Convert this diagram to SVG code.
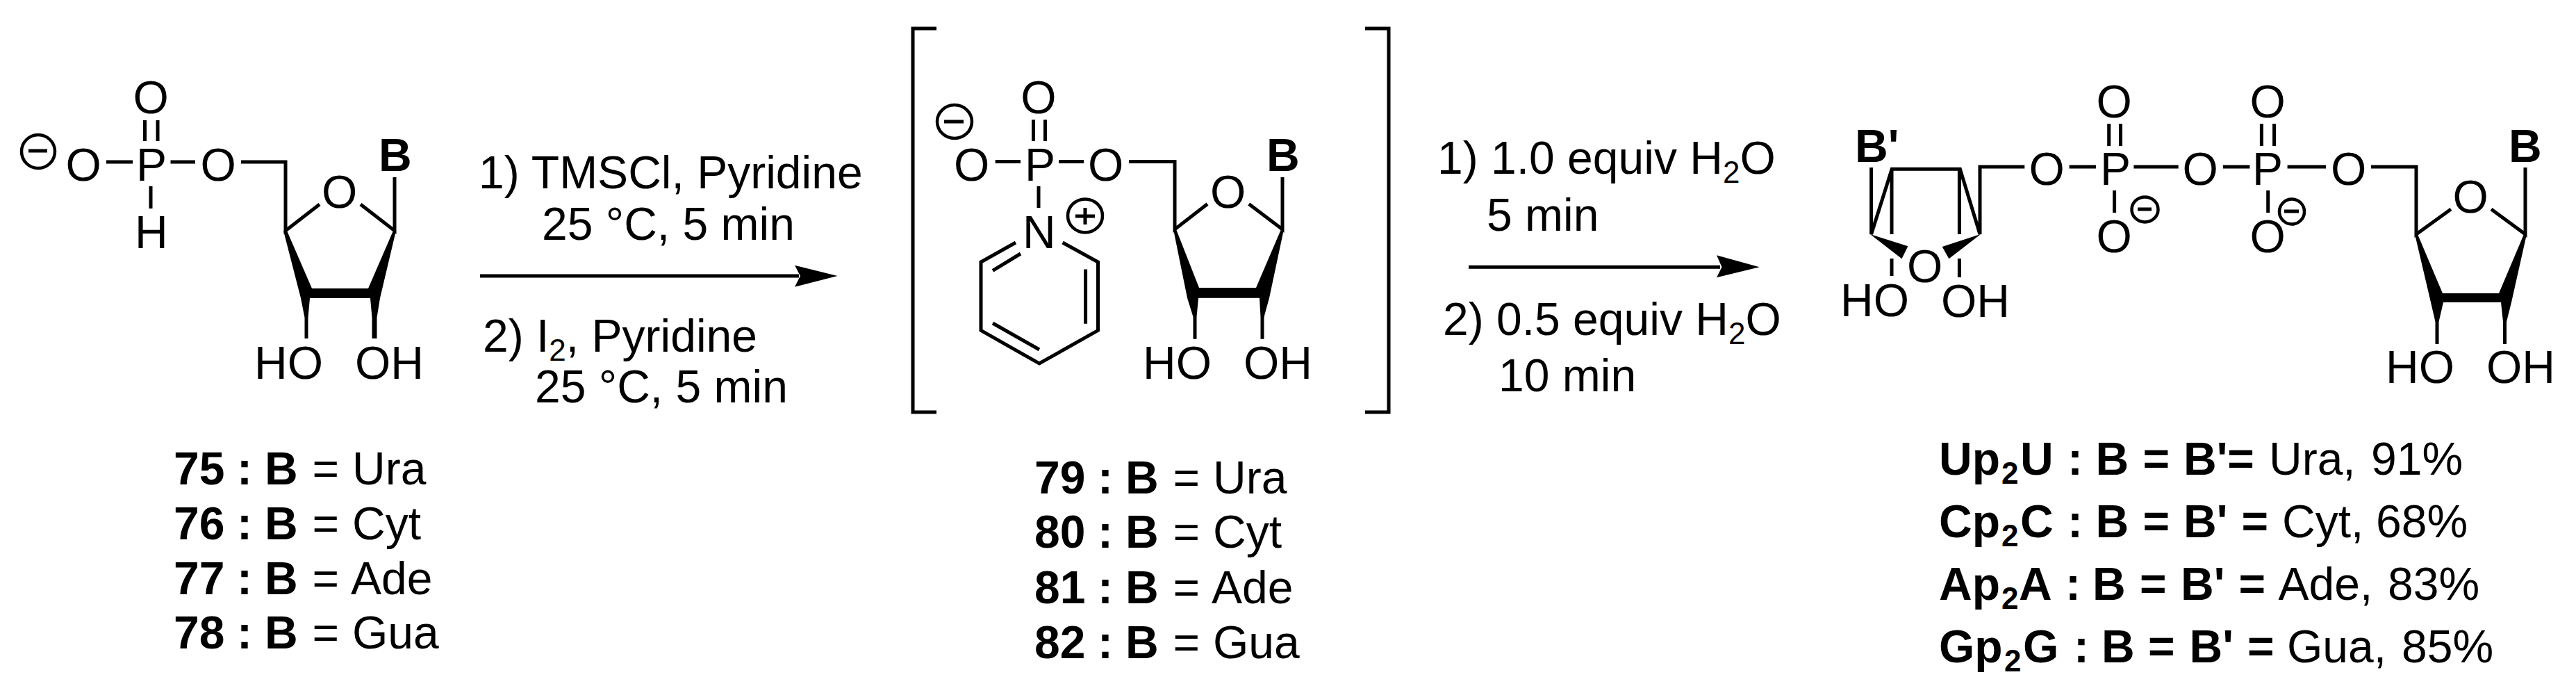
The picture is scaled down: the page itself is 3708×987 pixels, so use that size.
<svg xmlns="http://www.w3.org/2000/svg" width="3708" height="987" viewBox="0 0 3708 987">
<defs>
<style>
text{font-family:"Liberation Sans",Arial,sans-serif;font-size:66px;fill:#000}
.b{font-weight:700}
.s{font-size:44px}
.bd{fill:none;stroke:#000;stroke-width:5;stroke-linecap:butt;stroke-linejoin:miter}
.f{fill:#000;stroke:none}
.c{fill:#fff;stroke:#000;stroke-width:4.5}
</style>
</defs>
<rect width="3708" height="987" fill="#fff"/>
<g id="connectors">
<path class="bd" d="M691 397H1150"/><path class="f" d="M1144 381.700L1205.500 397L1144 412.700L1152 397Z"/>
<path class="bd" d="M2114 384.300H2476"/><path class="f" d="M2471 367.300L2532.600 384.300L2471 399.300L2478.500 384.300Z"/>
</g>
<g id="compound-75-78">
<text x="191.500" y="163">O</text><text x="196" y="260">P</text><text x="94.500" y="260">O</text><text x="288.500" y="260">O</text><text x="194" y="356.500">H</text>
<ellipse class="c" cx="55" cy="218" rx="24" ry="24"/>
<path class="bd" d="M41 217H68M208.500 173V203M227 173V203M153 233H191M245.500 233H281M217 268V300M347 233H411V332L460 294M519 294L568 332V255"/>
<text x="463" y="299">O</text><text class="b" x="545" y="246">B</text>
<path class="f" d="M408 332L413 332L449 415H530L566 332L570 332L547 429L542.500 457V487H535.500V457L533 429H446L443.500 457V487H438.500V457L433 429Z"/>
<text x="366" y="545">HO</text><text x="511" y="545">OH</text>
</g>
<g id="compound-79-82">
<path class="bd" d="M1348 41H1314V593H1348M1965 41H1999V593H1965"/>
<text x="1469.300" y="163">O</text><text x="1475" y="260">P</text><text x="1373" y="260">O</text><text x="1566" y="260">O</text><text x="1472" y="357">N</text>
<text x="1742" y="299">O</text><text class="b" x="1823" y="246">B</text><text x="1645" y="545">HO</text><text x="1790" y="545">OH</text>
<ellipse class="c" cx="1374" cy="175" rx="25" ry="24"/><ellipse class="c" cx="1562" cy="310.400" rx="25" ry="24"/>
<path class="bd" d="M1359 175H1387M1548 311H1576M1562 299V323M1487.500 172.300V203M1504.500 172.300V203M1432.700 232.400H1469M1524 232.400H1560M1625 232.400H1691V330L1738 293.600M1797.700 293.600L1846 330V255M1495 268V299M1462 349L1412 377V475.400L1496 523L1580.500 475.400V377L1529.600 349M1469 365L1429 389.300M1429 465L1496 503M1562.600 387.400V465.800"/>
<path class="f" d="M1689 330L1693 330L1726 414H1808L1844 330L1848 330L1827 428.700L1819.500 456V487.700H1814.500V456L1813 428.700H1725L1722.500 456V487.700H1717.500V456L1709 428.700Z"/>
</g>
<g id="product">
<text class="b" x="2670" y="233">B'</text>
<path class="bd" d="M2693.600 241V337L2723.200 243.300H2821.400L2850 337M2850 337V240H2914.300M2723 243V337M2820.400 243V337M2723 372V397M2820.400 372V399"/>
<path class="f" d="M2692 337L2746.400 354.300L2737.500 372.300ZM2851.400 336.700L2795.700 355L2805.400 372.300Z"/>
<text x="2745" y="406">O</text><text x="2649" y="455">HO</text><text x="2794" y="456">OH</text>
<text x="2920.500" y="266">O</text><text x="3023" y="266">P</text><text x="3017.500" y="169">O</text><text x="3017.500" y="363">O</text>
<ellipse class="c" cx="3087.500" cy="301.400" rx="19" ry="18"/>
<path class="bd" d="M3077 301H3097M3035.700 178V210M3052.500 178V210M3043.600 274V306M2978.600 240H3017M3071.400 240H3135.700"/>
<text x="3141.500" y="266">O</text><text x="3242" y="266">P</text><text x="3238.500" y="169">O</text><text x="3238.500" y="363">O</text>
<ellipse class="c" cx="3299" cy="304.500" rx="18" ry="18"/>
<path class="bd" d="M3255.400 178V210M3273.600 178V210M3264.700 274V306M3288 304H3309M3200 240H3238.400M3292.600 240H3348M3413 240H3478V337L3528 301M3586 301L3635 337V241"/>
<text x="3355" y="266">O</text><text x="3530.500" y="306">O</text><text class="b" x="3611" y="233">B</text>
<path class="f" d="M3476 337L3480 337L3516 422H3597L3633 337L3637 337L3615 435L3608 463V495H3603V463L3600 435H3517L3510.500 463V495H3505.500V463L3499 435Z"/>
<text x="3434" y="551">HO</text><text x="3579" y="551">OH</text>
</g>
<g id="reagents-1">
<text x="689" y="270.700">1) TMSCl, Pyridine</text>
<text x="780" y="345">25 °C, 5 min</text>
<text x="695" y="505.700">2) I<tspan class="s" dy="13">2</tspan><tspan dy="-13">, Pyridine</tspan></text>
<text x="770" y="579">25 °C, 5 min</text>
</g>
<g id="reagents-2">
<text x="2069" y="250">1) 1.0 equiv H<tspan class="s" dy="13">2</tspan><tspan dy="-13">O</tspan></text>
<text x="2140" y="331.700">5 min</text>
<text x="2077" y="482.300">2) 0.5 equiv H<tspan class="s" dy="13">2</tspan><tspan dy="-13">O</tspan></text>
<text x="2157" y="562.700">10 min</text>
</g>
<g id="labels-75-78">
<text y="696.700"><tspan class="b" x="250">75</tspan><tspan class="b" x="341">:</tspan><tspan class="b" x="381">B</tspan><tspan x="449.500">=</tspan><tspan x="507">Ura</tspan></text>
<text y="775.700"><tspan class="b" x="250">76</tspan><tspan class="b" x="341">:</tspan><tspan class="b" x="381">B</tspan><tspan x="449.500">=</tspan><tspan x="507">Cyt</tspan></text>
<text y="855"><tspan class="b" x="250">77</tspan><tspan class="b" x="341">:</tspan><tspan class="b" x="381">B</tspan><tspan x="449.500">=</tspan><tspan x="505">Ade</tspan></text>
<text y="933"><tspan class="b" x="250">78</tspan><tspan class="b" x="341">:</tspan><tspan class="b" x="381">B</tspan><tspan x="449.500">=</tspan><tspan x="507">Gua</tspan></text>
</g>
<g id="labels-79-82">
<text y="710"><tspan class="b" x="1489">79</tspan><tspan class="b" x="1580">:</tspan><tspan class="b" x="1620">B</tspan><tspan x="1688.500">=</tspan><tspan x="1746">Ura</tspan></text>
<text y="788.300"><tspan class="b" x="1489">80</tspan><tspan class="b" x="1580">:</tspan><tspan class="b" x="1620">B</tspan><tspan x="1688.500">=</tspan><tspan x="1746">Cyt</tspan></text>
<text y="867.700"><tspan class="b" x="1489">81</tspan><tspan class="b" x="1580">:</tspan><tspan class="b" x="1620">B</tspan><tspan x="1688.500">=</tspan><tspan x="1744">Ade</tspan></text>
<text y="946.700"><tspan class="b" x="1489">82</tspan><tspan class="b" x="1580">:</tspan><tspan class="b" x="1620">B</tspan><tspan x="1688.500">=</tspan><tspan x="1746">Gua</tspan></text>
</g>
<g id="labels-products">
<text y="683"><tspan class="b" x="2791">Up</tspan><tspan class="b s" x="2881" dy="13">2</tspan><tspan class="b" x="2908" dy="-13">U</tspan><tspan class="b" x="2976">:</tspan><tspan class="b" x="3016.500">B</tspan><tspan class="b" x="3084.500">=</tspan><tspan class="b" x="3143">B'=</tspan><tspan x="3266">Ura,</tspan><tspan x="3413">91%</tspan></text>
<text y="773"><tspan class="b" x="2791">Cp</tspan><tspan class="b s" x="2881" dy="13">2</tspan><tspan class="b" x="2908" dy="-13">C</tspan><tspan class="b" x="2976">:</tspan><tspan class="b" x="3016.500">B</tspan><tspan class="b" x="3084.500">=</tspan><tspan class="b" x="3143">B'</tspan><tspan class="b" x="3226.500">=</tspan><tspan x="3285">Cyt,</tspan><tspan x="3420">68%</tspan></text>
<text y="863"><tspan class="b" x="2791">Ap</tspan><tspan class="b s" x="2881" dy="13">2</tspan><tspan class="b" x="2906" dy="-13">A</tspan><tspan class="b" x="2973">:</tspan><tspan class="b" x="3012">B</tspan><tspan class="b" x="3080">=</tspan><tspan class="b" x="3139">B'</tspan><tspan class="b" x="3222.500">=</tspan><tspan x="3279.500">Ade,</tspan><tspan x="3437">83%</tspan></text>
<text y="953"><tspan class="b" x="2791">Gp</tspan><tspan class="b s" x="2885" dy="13">2</tspan><tspan class="b" x="2912" dy="-13">G</tspan><tspan class="b" x="2985">:</tspan><tspan class="b" x="3025">B</tspan><tspan class="b" x="3092">=</tspan><tspan class="b" x="3151.600">B'</tspan><tspan class="b" x="3235">=</tspan><tspan x="3292">Gua,</tspan><tspan x="3457">85%</tspan></text>
</g>
</svg>
